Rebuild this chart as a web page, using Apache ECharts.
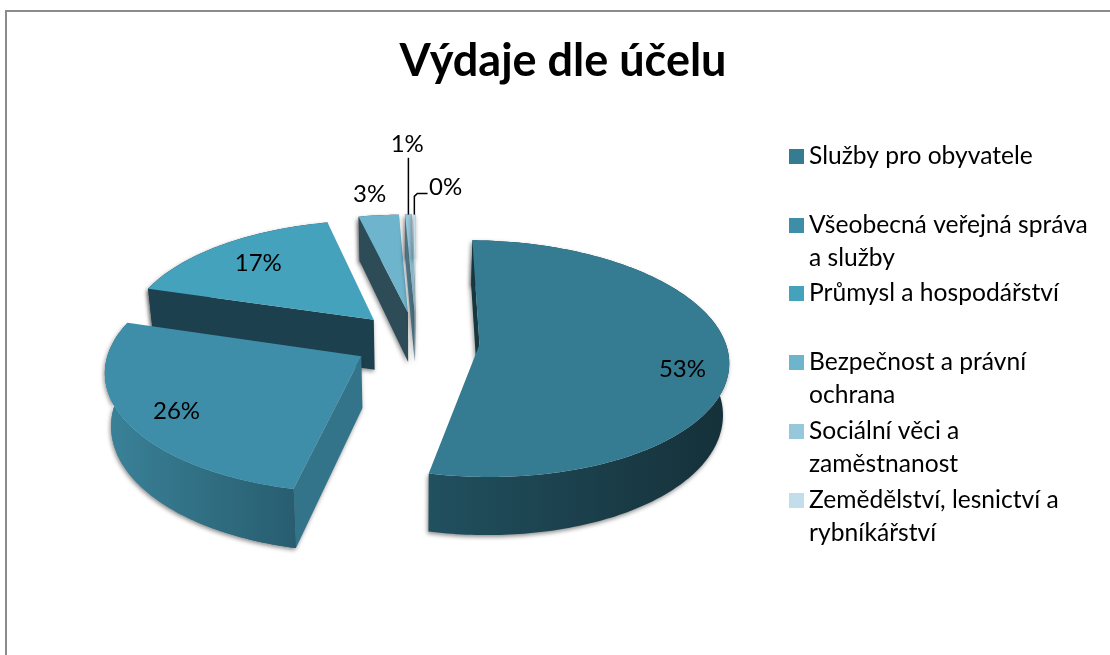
<!DOCTYPE html>
<html><head><meta charset="utf-8">
<style>html,body{margin:0;padding:0;background:#fff}#c{width:1110px;height:655px}</style>
<script src="https://cdn.jsdelivr.net/npm/echarts@6/dist/echarts.min.js"></script>
</head><body><div id="c"></div>
<script>
const categories = ['Služby pro obyvatele','Všeobecná veřejná správa\na služby','Průmysl a hospodářství','Bezpečnost a právní\nochrana','Sociální věci a\nzaměstnanost','Zemědělství, lesnictví a\nrybníkářství'];
const values = [53.4, 26.1, 16.8, 3.0, 0.5, 0.2];
const topColors = ['#357b92','#3f8ea9','#45a2bd','#6db4cc','#97c7da','#c3deea'];
const legendTops = [140, 176, 277, 313, 382, 451];
const FONT = 'Lato, "Open Sans", sans-serif';

// projection of the exploded 3D pie
const V = {cx:416.5, cy:341, a:248, b:116, p:0.12, q:0.006, depth:51, vx:395, explode:0.255, bottomScale:0.98, startAngle:0.5};
const total = values.reduce((s,v)=>s+v,0);
let acc = 0;
const slices = values.map(v=>{const st=V.startAngle+acc/total*360; acc+=v; const en=V.startAngle+acc/total*360; return {st, en, mid:(st+en)/2};});
const rad = d=>d*Math.PI/180;
function proj(i, r, deg, down){
  const m = rad(slices[i].mid);
  const X = V.explode*Math.sin(m) + r*Math.sin(rad(deg));
  const Y = V.explode*Math.cos(m) + r*Math.cos(rad(deg));
  const s = 1/(1+V.p*Y+V.q*X);
  let x = V.vx + (V.cx-V.vx + V.a*X)*s;
  const y = V.cy + (-V.b*Y + (down?V.depth:0))*s;
  if(down) x = V.cx + (x-V.cx)*V.bottomScale;
  return [x, y];
}
function arc(i, down, rev){
  const pts=[]; const {st,en}=slices[i];
  const n=Math.max(2,Math.ceil((en-st)));
  for(let k=0;k<=n;k++){const d=st+(en-st)*k/n; pts.push(proj(i,1,d,down));}
  return rev?pts.reverse():pts;
}
const wallStyles = [
  {rim:['#21505f','#153039'], start:'#163640'},
  {rim:['#3a8299','#285d6f'], start:'#33748a'},
  {rim:['#1c404d','#1c404d'], start:'#1c404d'},
  {rim:['#2e4b58','#2e4b58'], start:'#2e4b58'},
  {rim:['#4c7384','#4c7384'], start:'#4c7384'},
  {rim:['#8fa9b5','#8fa9b5'], start:'#8fa9b5'}
];
// label placing in pie polar terms: radius fraction, angle
const labelPolar = [[0.82,104.5],[0.81,237.5],[0.74,316.5],[1.25,352],[1.88,359.4],[1.33,6.7]];
const shadow = {shadowBlur:4, shadowColor:'rgba(0,0,0,0.45)', shadowOffsetX:-1, shadowOffsetY:2};

function renderSlice(i, api){
  const val = api.value(0);
  const s = slices[i], w = wallStyles[i];
  const apexT = proj(i,0,0,false), apexB = proj(i,0,0,true);
  const children = [];
  const poly=(points,fill,extra)=>children.push({type:'polygon',shape:{points},style:Object.assign({fill},extra||{})});
  const rimPts = arc(i,false,false).concat(arc(i,true,true));
  const rimFill = ()=>new echarts.graphic.LinearGradient(0,0,1,0,[{offset:0,color:w.rim[0]},{offset:1,color:w.rim[1]}]);
  // rim, then the radial wall facing the viewer (closing walls here all face away)
  poly(rimPts, rimFill(), shadow);
  poly([proj(i,1,s.st,false),apexT,apexB,proj(i,1,s.st,true)], w.start, shadow);
  // a front rim sits on top of the wall's shadow
  if(Math.cos(rad(s.st))<0) poly(rimPts, rimFill());
  // top face
  poly([apexT].concat(arc(i,false,false)), topColors[i]);
  // label
  const [lr,la]=labelPolar[i];
  const lp=proj(i,lr,la,false);
  children.push({type:'text',style:{text:Math.round(val)+'%',x:lp[0],y:lp[1],align:'center',verticalAlign:'middle',fill:'#000',font:'24px '+FONT}, z2:20});
  // leader lines
  if(i===4){
    const o=proj(i,1,s.mid,false);
    children.push({type:'polyline',shape:{points:[[o[0],o[1]],[o[0],lp[1]+14]]},style:{stroke:'#000',lineWidth:1.5,fill:'none'},z2:20});
  }
  if(i===5){
    const o=proj(i,1,s.mid,false);
    children.push({type:'polyline',shape:{points:[[o[0],o[1]],[o[0],lp[1]+9],[o[0]+3,lp[1]+6],[lp[0]-18,lp[1]+6]]},style:{stroke:'#000',lineWidth:1.5,fill:'none'},z2:20});
  }
  return {type:'group',children};
}
const drawZ=[6,5,4,1,2,3];
const chart = echarts.init(document.getElementById('c'),null,{renderer:'canvas'});
chart.setOption({
  animation:false,
  backgroundColor:'#fff',
  title:{text:'Výdaje dle účelu',left:558,top:34,textAlign:'center',textStyle:{fontFamily:FONT,fontWeight:'bold',fontSize:45,color:'#000'}},
  graphic:[{type:'rect',shape:{x:6,y:11,width:1300,height:900},style:{fill:'none',stroke:'#8b8b8b',lineWidth:2},silent:true,z:-1}],
  legend:categories.map((c,i)=>({
    data:[c],left:789,top:legendTops[i],orient:'vertical',padding:0,itemWidth:15,itemHeight:15,icon:'rect',selectedMode:false,
    formatter:n=>n.includes('\n')?'\n'+n:n,
    textStyle:{fontFamily:FONT,fontSize:24.6,color:'#000',lineHeight:33}
  })),
  series:categories.map((c,i)=>({
    type:'custom',name:c,coordinateSystem:'none',z:drawZ[i],silent:true,
    itemStyle:{color:topColors[i]},
    data:[[values[i]]],
    renderItem:(params,api)=>renderSlice(i,api)
  }))
});
</script></body></html>
